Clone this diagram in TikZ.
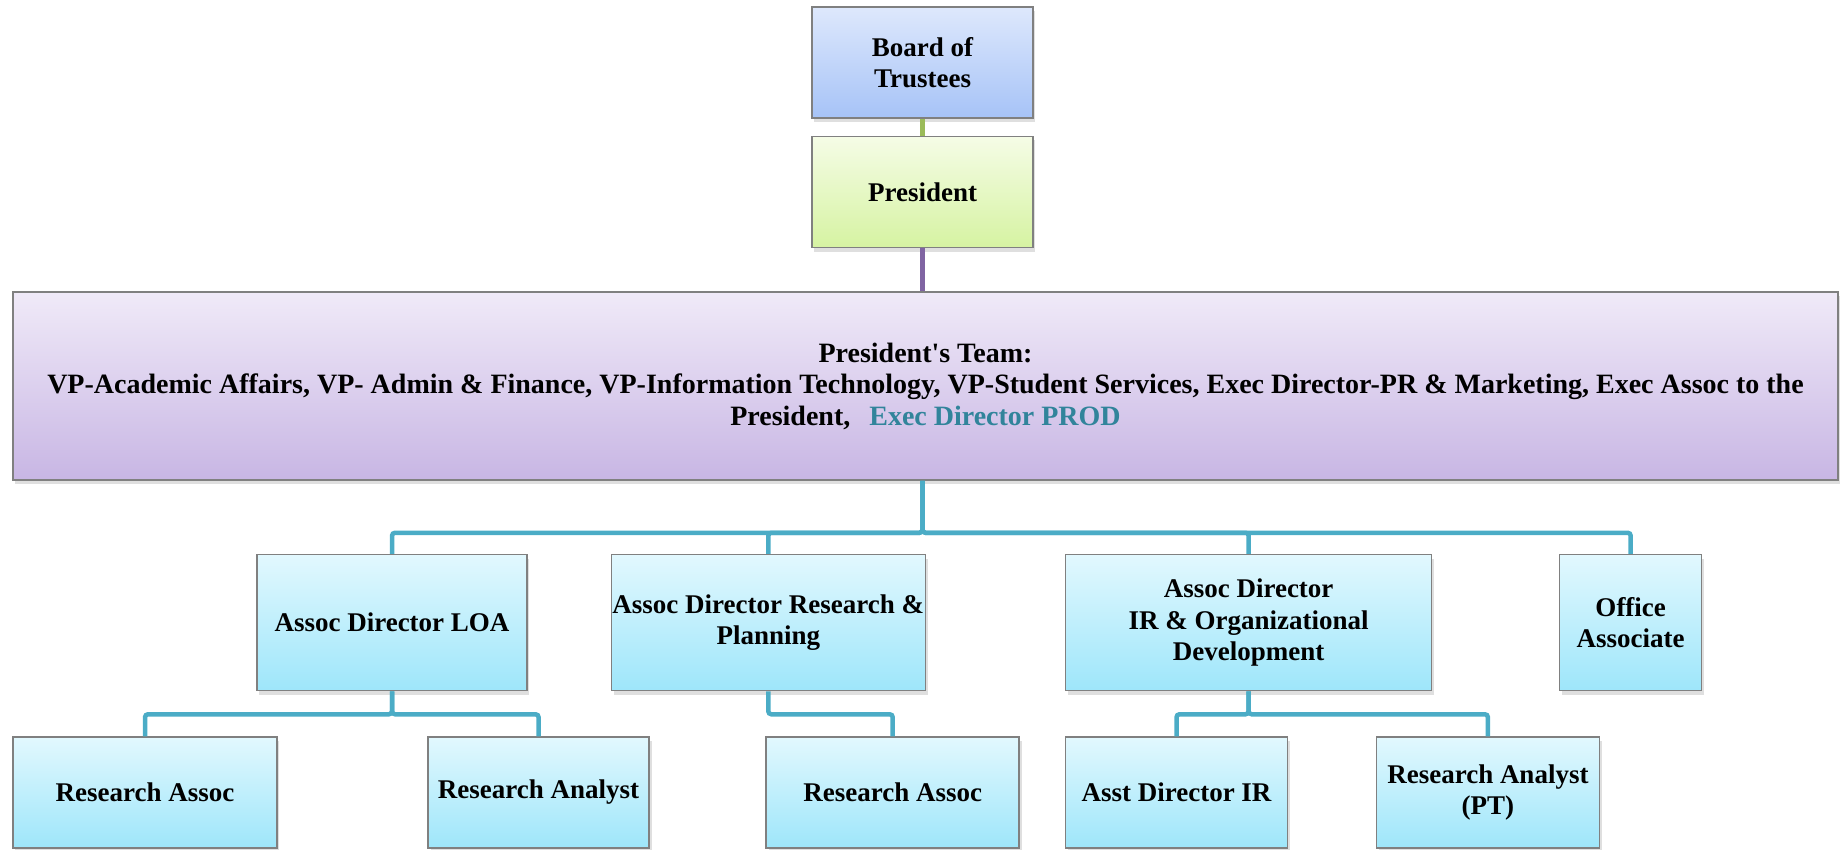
\documentclass[tikz,border=0pt]{standalone}
\usepackage{fontspec}
\setmainfont{Liberation Serif}
\usetikzlibrary{positioning, shadows}

\definecolor{boardtop}{HTML}{DEE8FC}
\definecolor{boardbot}{HTML}{A6C3F7}
\definecolor{prestop}{HTML}{F5FCE6}
\definecolor{presbot}{HTML}{D6F3A2}
\definecolor{teamtop}{HTML}{F0EAF8}
\definecolor{teambot}{HTML}{C8B6E4}
\definecolor{unittop}{HTML}{E2F8FE}
\definecolor{unitbot}{HTML}{9EE6FA}
\definecolor{edgegrey}{HTML}{808080}
\definecolor{busblue}{HTML}{4BACC6}
\definecolor{linkgreen}{HTML}{9BBB59}
\definecolor{linkpurple}{HTML}{8064A2}
\definecolor{prodteal}{HTML}{31849B}

\begin{document}
\begin{tikzpicture}[
  node distance=8.5pt,
  box/.style={draw=edgegrey, line width=0.75pt, align=center, inner xsep=1pt,
    font=\bfseries\fontsize{13.5}{15.75}\selectfont,
    drop shadow={shadow xshift=1.2pt, shadow yshift=-2pt, opacity=0.25}},
  boardbox/.style={box, top color=boardtop, bottom color=boardbot, minimum width=110.5pt, minimum height=55.5pt},
  presbox/.style={box, top color=prestop, bottom color=presbot, minimum width=110.5pt, minimum height=55.5pt},
  teambox/.style={box, top color=teamtop, bottom color=teambot, minimum width=912.5pt, minimum height=94pt,
    font=\bfseries\fontsize{14}{15.75}\selectfont},
  unit/.style={box, top color=unittop, bottom color=unitbot, minimum height=68pt},
  sub/.style={box, top color=unittop, bottom color=unitbot, minimum height=55.5pt},
  bus/.style={busblue, line width=2.25pt, rounded corners=1.5pt}
]
\useasboundingbox (0,0) rectangle (922.5pt,-425pt);
\clip (0,0) rectangle (922.5pt,-425pt);

\node[boardbox] (board) at (461.25pt,-31.25pt) {Board of\\Trustees};
\node[presbox, below=of board] (pres) {President};
\node[teambox, below=21.5pt of pres, xshift=1.5pt] (team)
  {President\textquotesingle s Team:\\
   VP-Academic Affairs, VP- Admin \& Finance, VP-Information Technology, VP-Student Services, Exec Director-PR \& Marketing, Exec Assoc to the\\
   President,\hspace{6pt} {\color{prodteal}Exec Director PROD}};

\node[unit, minimum width=135pt, below right=36.5pt and 122pt of team.south west] (loa) {Assoc Director LOA};
\node[unit, minimum width=157pt, inner xsep=0pt, right=41.4pt of loa] (rp) {Assoc Director Research \&\\Planning};
\node[unit, minimum width=183pt, right=69.4pt of rp] (irod) {Assoc Director\\IR \& Organizational\\Development};
\node[unit, minimum width=71pt, right=63.3pt of irod] (office) {Office\\Associate};

\node[sub, minimum width=132pt, anchor=north west] (ra1) at ([yshift=-22.5pt]loa.south -| team.west) {Research Assoc};
\node[sub, minimum width=110.5pt, right=74.8pt of ra1] (ran) {Research Analyst};
\node[sub, minimum width=126.5pt, right=57.8pt of ran] (ra2) {Research Assoc};
\node[sub, minimum width=111pt, right=22.4pt of ra2] (asst) {Asst Director IR};
\node[sub, minimum width=111.5pt, right=43.7pt of asst] (ranpt) {Research Analyst\\(PT)};

\draw[linkgreen, line width=2.3pt] (board) -- (pres);
\draw[linkpurple, line width=2.5pt] (pres) -- (pres |- team.north);

\foreach \unitname in {loa, rp, irod, office}
  \draw[bus] (team.south -| pres.south) -- ++(0,-26pt) -| (\unitname.north);
\foreach \subname in {ra1, ran}
  \draw[bus] (loa.south) -- ++(0,-11.5pt) -| (\subname.north);
\draw[bus] (rp.south) -- ++(0,-11.5pt) -| (ra2.north);
\foreach \subname in {asst, ranpt}
  \draw[bus] (irod.south) -- ++(0,-11.5pt) -| (\subname.north);
\end{tikzpicture}
\end{document}
